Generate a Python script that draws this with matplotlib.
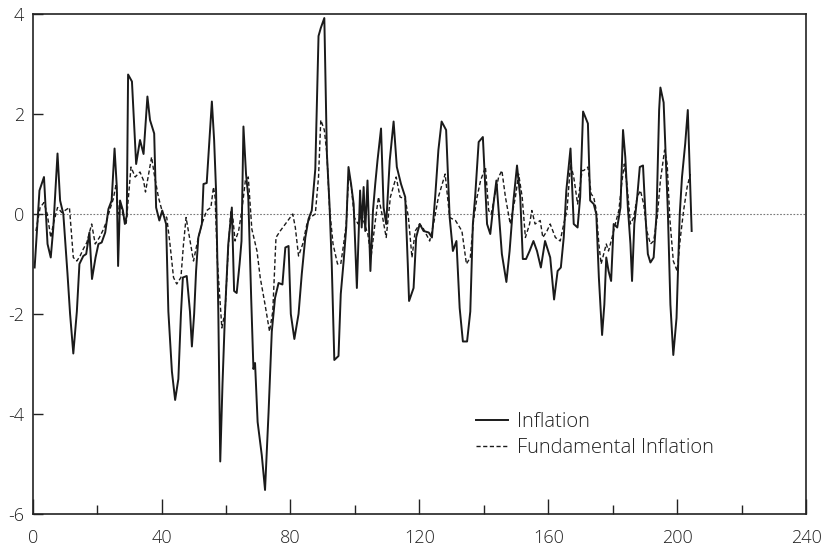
import matplotlib
matplotlib.use("Agg")
import matplotlib.pyplot as plt
from matplotlib.ticker import MultipleLocator

# ---- data (time index, value) ----
infl_t = [0.6, 2.1, 3.5, 4.6, 5.6, 6.4, 7.7, 8.5, 9.5, 10.8, 11.6, 12.6, 13.7, 14.5,
          15.7, 16.6, 17.6, 18.4, 19.5, 20.4, 21.4, 22.5, 23.5, 24.5, 25.4, 26.1, 26.5,
          27.1, 28.0, 28.6, 29.2, 29.6, 30.8, 32.1, 33.3, 34.4, 35.6, 36.4, 37.7, 38.3,
          39.3, 40.2, 41.4, 42.1, 43.2, 44.2, 45.2, 46.0, 46.6, 47.8, 48.8, 49.4, 50.1,
          50.7, 51.4, 52.5, 53.0, 54.0, 55.6, 56.3, 56.9, 57.6, 58.2, 58.9, 59.7, 60.7,
          61.8, 62.5, 63.3, 64.2, 64.8, 65.4, 66.2, 66.9, 67.8, 68.5, 69.0, 69.8, 71.1,
          72.1, 73.2, 74.2, 75.2, 76.3, 77.5, 78.4, 79.4, 80.1, 81.2, 82.5, 83.5, 84.6,
          85.6, 86.6, 87.7, 88.7, 89.4, 90.5, 91.3, 92.1, 92.8, 93.6, 94.9, 95.6, 96.5,
          97.3, 98.0, 98.8, 99.6, 100.6, 101.6, 102.1, 102.7, 103.2, 103.9, 104.8, 105.6,
          106.3, 107.0, 108.1, 108.9, 109.7, 110.8, 112.0, 113.0, 114.3, 115.6, 116.4,
          116.8, 118.2, 119.0, 120.1, 121.3, 122.9, 123.9, 124.9, 125.9, 126.9, 128.3,
          129.4, 130.4, 131.5, 132.5, 133.5, 134.8, 135.8, 136.6, 137.3, 138.4, 139.7,
          141.0, 142.0, 143.0, 143.9, 144.6, 145.6, 147.0, 148.0, 149.2, 150.3, 151.3,
          152.1, 153.1, 154.2, 155.4, 156.5, 157.7, 159.0, 160.6, 161.8, 162.9, 163.9,
          164.8, 165.6, 166.9, 167.9, 169.1, 169.9, 170.8, 172.3, 173.0, 174.1, 174.9,
          175.7, 176.7, 177.4, 178.0, 178.7, 179.5, 180.3, 181.4, 182.4, 183.2, 183.9,
          184.7, 185.5, 186.0, 186.7, 187.6, 188.4, 189.4, 190.2, 190.9, 191.7, 192.7,
          193.6, 194.4, 194.8, 195.8, 197.1, 197.9, 198.8, 199.8, 200.8, 201.5, 202.5,
          203.3, 204.5]
infl_v = [-1.07, 0.47, 0.74, -0.60, -0.87, -0.27, 1.21, 0.27, 0.00, -1.20, -2.00, -2.79,
          -1.95, -1.00, -0.84, -0.80, -0.37, -1.30, -0.87, -0.60, -0.57, -0.37, 0.10,
          0.27, 1.31, 0.54, -1.04, 0.27, 0.07, -0.20, -0.03, 2.79, 2.65, 1.00, 1.48, 1.20,
          2.35, 1.88, 1.61, 0.13, -0.13, 0.07, -0.20, -1.95, -3.15, -3.72, -3.30, -2.00,
          -1.27, -1.24, -1.95, -2.65, -2.00, -1.14, -0.47, -0.20, 0.60, 0.62, 2.25, 1.48,
          0.47, -1.95, -4.95, -3.40, -1.95, -0.60, 0.13, -1.54, -1.58, -1.00, -0.54, 1.75,
          0.80, 0.34, -1.68, -3.10, -2.98, -4.16, -4.83, -5.52, -3.96, -2.35, -1.68,
          -1.38, -1.41, -0.67, -0.64, -2.00, -2.50, -2.00, -1.20, -0.47, -0.10, 0.07,
          0.90, 3.56, 3.72, 3.92, 1.20, 0.20, -1.00, -2.92, -2.84, -1.60, -0.94, -0.27,
          0.94, 0.60, 0.20, -1.48, 0.47, -0.27, 0.54, -0.34, 0.67, -1.14, 0.07, 0.60,
          1.07, 1.71, 0.13, -0.20, 1.07, 1.85, 0.94, 0.60, 0.34, -1.00, -1.74, -1.48,
          -0.47, -0.20, -0.34, -0.37, -0.47, 0.34, 1.28, 1.85, 1.68, -0.07, -0.74, -0.54,
          -1.88, -2.55, -2.55, -1.95, -0.20, 0.34, 1.44, 1.54, -0.20, -0.40, 0.20, 0.67,
          0.07, -0.80, -1.36, -0.74, 0.27, 0.97, 0.34, -0.90, -0.90, -0.74, -0.54, -0.74,
          -1.07, -0.54, -0.87, -1.71, -1.14, -1.07, -0.47, 0.47, 1.31, -0.20, -0.27, 0.34,
          2.05, 1.81, 0.27, 0.20, 0.00, -1.27, -2.42, -1.81, -0.87, -1.14, -1.34, -0.20,
          -0.27, 0.13, 1.68, 1.14, 0.13, -0.60, -1.34, -0.20, 0.34, 0.94, 0.97, -0.07,
          -0.80, -0.97, -0.87, 0.00, 2.08, 2.53, 2.23, 0.07, -1.81, -2.82, -2.08, 0.00,
          0.74, 1.41, 2.08, -0.34]

fund_t = [1.0, 2.3, 3.5, 4.5, 5.6, 6.4, 7.7, 9.0, 10.0, 11.4, 12.6, 13.7, 14.7, 15.7,
          16.8, 18.3, 19.4, 20.7, 21.7, 22.8, 24.0, 25.0, 25.9, 26.6, 27.3, 28.2, 29.0,
          29.7, 30.5, 31.8, 33.3, 34.4, 35.0, 36.9, 37.7, 39.0, 40.4, 41.6, 42.6, 43.7,
          44.7, 46.0, 46.8, 47.6, 49.9, 51.4, 52.5, 54.0, 55.3, 56.1, 56.6, 57.3, 58.7,
          59.7, 60.7, 61.5, 62.1, 62.8, 63.9, 64.9, 66.0, 66.9, 68.0, 69.6, 70.6, 72.1,
          73.5, 74.5, 75.5, 76.8, 78.4, 80.7, 81.5, 82.5, 83.8, 85.1, 86.1, 87.7, 88.7,
          89.4, 90.5, 91.3, 92.1, 93.2, 94.6, 95.6, 96.5, 97.3, 98.0, 98.8, 99.8, 101.0,
          102.0, 103.0, 104.0, 105.0, 106.2, 107.3, 108.4, 109.7, 111.0, 112.8, 114.0,
          115.6, 116.6, 117.7, 118.7, 120.1, 121.3, 123.2, 124.4, 125.9, 128.0, 129.4,
          131.2, 133.2, 134.6, 135.8, 136.8, 137.9, 139.0, 140.5, 141.5, 142.3, 143.3,
          144.6, 145.6, 146.7, 148.2, 149.8, 150.8, 151.9, 152.9, 154.2, 154.9, 155.9,
          157.5, 158.3, 159.6, 160.6, 162.2, 163.7, 164.8, 165.8, 166.9, 167.9, 169.1,
          170.5, 171.0, 172.3, 173.3, 174.1, 174.9, 175.7, 176.4, 177.2, 178.0, 178.7,
          179.8, 180.8, 181.9, 182.9, 183.6, 184.5, 185.5, 186.5, 187.6, 188.6, 189.6,
          190.6, 191.7, 192.7, 193.8, 194.8, 196.1, 196.9, 197.7, 198.8, 200.0, 201.0,
          202.0, 203.1, 204.1]
fund_v = [-0.34, 0.13, 0.23, 0.00, -0.47, -0.20, 0.13, 0.03, 0.07, 0.13, -0.87, -0.94,
          -0.84, -0.70, -0.57, -0.20, -0.60, -0.47, -0.34, -0.17, 0.10, 0.30, 0.60, 0.00,
          0.20, -0.07, -0.20, 0.34, 0.94, 0.74, 0.84, 0.67, 0.44, 1.14, 0.80, 0.34, 0.00,
          -0.07, -0.60, -1.27, -1.40, -1.27, -0.60, -0.07, -0.94, -0.47, -0.20, 0.07,
          0.13, 0.54, 0.34, -0.94, -2.28, -1.95, -0.67, 0.07, -0.07, -0.54, -0.34, 0.07,
          0.67, 0.74, -0.30, -0.74, -1.27, -1.81, -2.35, -1.95, -0.47, -0.34, -0.20, 0.00,
          -0.27, -0.84, -0.60, -0.20, -0.07, 0.00, 0.74, 1.88, 1.68, 1.20, 0.13, -0.60,
          -1.00, -1.00, -0.60, -0.20, 0.74, 0.60, -0.07, -0.20, 0.00, -0.20, -0.40, -0.87,
          -0.20, 0.34, 0.00, -0.47, 0.34, 0.74, 0.34, 0.30, -0.07, -0.87, -0.34, -0.20,
          -0.30, -0.54, -0.20, 0.34, 0.80, -0.07, -0.13, -0.34, -1.00, -0.87, -0.13, 0.34,
          0.67, 0.94, 0.07, 0.00, 0.34, 0.74, 0.87, 0.34, -0.20, 0.34, 0.80, 0.34, -0.47,
          -0.20, 0.07, -0.20, -0.13, -0.47, -0.34, -0.20, -0.47, -0.54, -0.20, 0.07, 1.00,
          0.74, 0.20, 0.87, 0.87, 0.94, 0.40, 0.34, 0.07, -0.60, -1.00, -0.80, -0.60,
          -0.74, -0.47, -0.20, 0.07, 0.67, 1.00, 0.54, -0.20, -0.07, 0.34, 0.47, 0.20,
          -0.34, -0.60, -0.54, -0.07, 0.67, 1.28, 1.00, -0.07, -0.94, -1.14, -0.47, 0.07,
          0.54, 0.80]

series_labels = ["Inflation", "Fundamental Inflation"]
x_ticks = [0, 40, 80, 120, 160, 200, 240]
y_ticks = [-6, -4, -2, 0, 2, 4]

# ---- figure ----
plt.rcParams['font.family'] = ['Open Sans', 'DejaVu Sans']
plt.rcParams['font.weight'] = 'light'
plt.rcParams['axes.unicode_minus'] = False
fig = plt.figure(figsize=(8.28, 5.5), dpi=100)
ax = fig.add_axes([0.0395, 0.0655, 0.934, 0.909])

ax.axhline(0, color='#777777', lw=0.8, ls=(0, (1.5, 1.5)), zorder=1)
ax.plot(infl_t, infl_v, color='#1a1a1a', lw=1.4, label=series_labels[0], zorder=3)
ax.plot(fund_t, fund_v, color='#1a1a1a', lw=1.0, ls=(0, (3, 1.8)),
        label=series_labels[1], zorder=2)

ax.set_xlim(0, 240)
ax.set_ylim(-6, 4)
ax.set_xticks(x_ticks)
ax.set_xticklabels([str(v) for v in x_ticks])
ax.xaxis.set_minor_locator(MultipleLocator(20))
ax.set_yticks(y_ticks)
ax.set_yticklabels([str(v) for v in y_ticks])

ax.tick_params(axis='x', which='major', direction='in', length=11, width=1.0,
               labelsize=13, pad=11, colors='#222222', top=False)
ax.tick_params(axis='x', which='minor', direction='in', length=6.5, width=1.0,
               top=False, colors='#222222')
ax.tick_params(axis='y', which='major', direction='in', length=7, width=1.0,
               labelsize=13, pad=6, colors='#222222', right=False)
for s in ax.spines.values():
    s.set_linewidth(1.2)
    s.set_color('#222222')

leg = ax.legend(loc='lower left', bbox_to_anchor=(0.555, 0.083), frameon=False,
                fontsize=14.5, handlelength=1.6, handletextpad=0.45, labelspacing=0.33,
                borderpad=0.2)
for t in leg.get_texts():
    t.set_color('#222222')

fig.savefig("out.png", dpi=100)
